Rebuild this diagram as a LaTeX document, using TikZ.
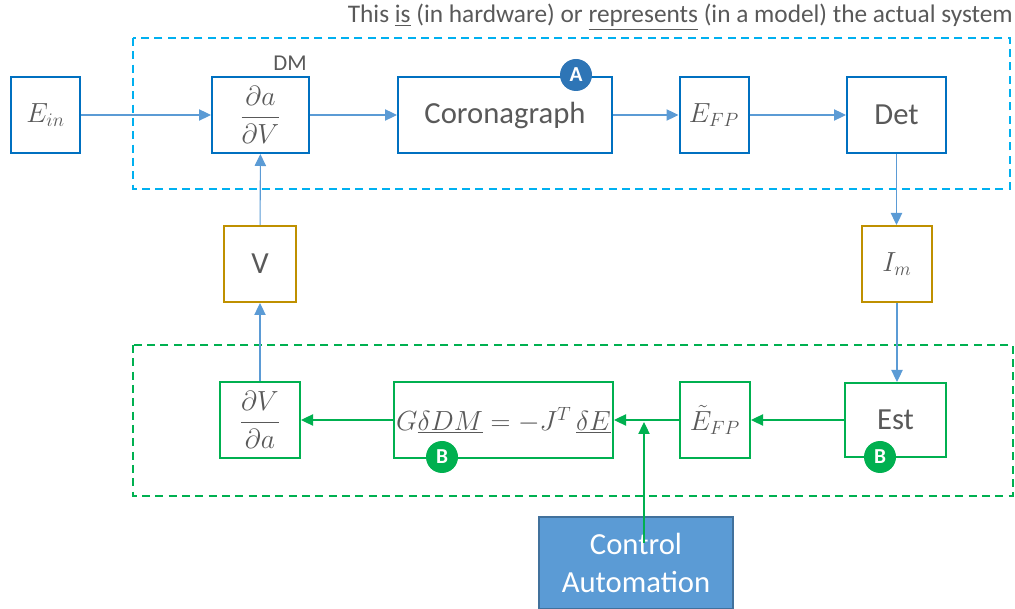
\documentclass[tikz,border=0pt]{standalone}
\usepackage{fontspec}
\setmainfont{Carlito}
\usetikzlibrary{arrows.meta}
\definecolor{boxblue}{RGB}{0,112,192}
\definecolor{lineblue}{RGB}{91,155,213}
\definecolor{dashblue}{RGB}{0,176,240}
\definecolor{grn}{RGB}{0,176,80}
\definecolor{gold}{RGB}{191,144,0}
\definecolor{txt}{RGB}{89,89,89}
\definecolor{badgeblue}{RGB}{46,117,182}
\definecolor{ctrlfill}{RGB}{91,155,213}
\definecolor{ctrlline}{RGB}{65,113,156}
\tikzset{
  wh/.style 2 args={minimum width={#1*0.75pt}, minimum height={#2*0.75pt}},
  blk/.style={draw, line width=1.5pt, inner sep=0pt, text=txt, font=\fontsize{23}{27}\selectfont},
  bbox/.style={blk, draw=boxblue},
  gbox/.style={blk, draw=grn},
  ybox/.style={blk, draw=gold},
  mathsm/.style={font=\fontsize{21}{25}\selectfont},
  bline/.style={draw=lineblue, line width=0.8pt, -{Triangle[length=9pt,width=8.5pt]}},
  gline/.style={draw=grn, line width=0.8pt, -{Triangle[length=9pt,width=8.5pt]}},
  frame/.style={dashed, line width=1.5pt, dash pattern=on 6pt off 4pt},
  badge/.style={circle, inner sep=0pt, minimum size=24pt, text=white, font=\fontsize{16}{16}\selectfont\bfseries},
}
\begin{document}
\begin{tikzpicture}[x=0.75pt, y=-0.75pt]
\useasboundingbox (0,0) rectangle (1015,609);
% frames
\draw[frame, draw=dashblue] (133,38) rectangle (1010,189);
\draw[frame, draw=grn] (133,345) rectangle (1013,496);
\node[anchor=base east, text=txt, font=\fontsize{19}{21}\selectfont, inner sep=0pt] (cap) at (1013,23)
  {This \underline{is} (in hardware) or \underline{represents} (in a model) the actual system};
% top row
\node[bbox, wh={69}{76}, mathsm] (ein) at (45.5,115) {$E_{in}$};
\node[bbox, wh={97}{76}, font=\fontsize{21}{25}\selectfont] (dm) at (260.5,115) {$\displaystyle\frac{\partial a}{\partial V}$};
\node[text=txt, font=\fontsize{17}{19}\selectfont, inner sep=0pt] (dml) at (290,63) {DM};
\node[bbox, wh={214}{76}] (cor) at (505,115) {Coronagraph};
\node[bbox, wh={69}{76}, mathsm] (efp) at (714,115) {$E_{FP}$};
\node[bbox, wh={99}{76}] (det) at (896.5,115) {Det};
\node[badge, fill=badgeblue] (ba) at (576,75) {A};
% middle row
\node[ybox, wh={72}{76}] (v) at (260,264) {V};
\node[ybox, wh={70}{76}, mathsm] (im) at (897,264) {$I_m$};
% bottom row
\node[gbox, wh={80}{76}, font=\fontsize{21}{25}\selectfont] (dva) at (260,420) {$\displaystyle\frac{\partial V}{\partial a}$};
\node[gbox, wh={219}{76}, font=\fontsize{20}{24}\selectfont] (eq) at (503.5,420)
  {$G\underline{\delta DM} = -J^{T}\,\underline{\delta E}$};
\node[gbox, wh={70}{76}, mathsm] (etf) at (715,420) {$\tilde{E}_{FP}$};
\node[gbox, wh={101}{74}] (est) at (895.5,420) {Est};
\node[badge, fill=grn] (bb1) at (442,457) {B};
\node[badge, fill=grn] (bb2) at (880,457) {B};
% control automation
\node[draw=ctrlline, fill=ctrlfill, line width=1.2pt, wh={194}{92}, text=white,
      font=\fontsize{23}{28}\selectfont, align=center, inner sep=0pt] (ctrl) at (636,563)
  {Control\\Automation};
\coordinate (cs) at (644,543);
\coordinate (cj) at (644,422);
% connectors
\draw[bline] (ein) -- (dm);
\draw[bline] (dm) -- (cor);
\draw[bline] (cor) -- (efp);
\draw[bline] (efp) -- (det);
\draw[bline] (det.south) -- (im.north -| det.south);
\draw[bline] (im.south) -- (est.north -| im.south);
\draw[gline] (est) -- (etf);
\draw[gline] (etf) -- (eq);
\draw[gline] (eq) -- (dva);
\draw[bline] (dva) -- (v);
\draw[bline] (v) -- (dm);
\draw[gline] (cs) -- (cj);
\end{tikzpicture}
\end{document}
